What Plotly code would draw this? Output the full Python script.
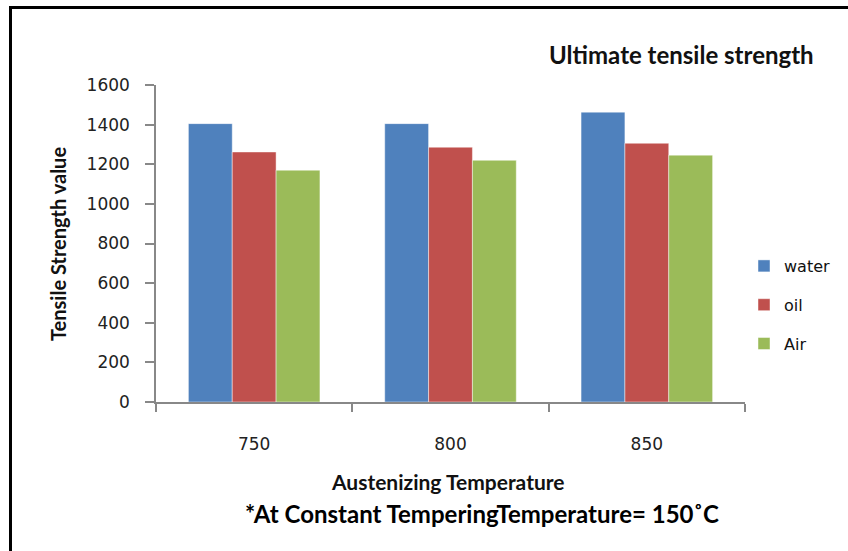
import plotly.graph_objects as go

categories = ["750", "800", "850"]
water = [1405, 1405, 1463]
oil = [1262, 1286, 1306]
air = [1170, 1220, 1246]
y_ticks = [0, 200, 400, 600, 800, 1000, 1200, 1400, 1600]

colors = {"water": "#4F81BD", "oil": "#C0504D", "Air": "#9BBB59"}

fig = go.Figure()
for i, (name, vals) in enumerate([("water", water), ("oil", oil), ("Air", air)]):
    fig.add_trace(go.Bar(
        x=categories, y=vals, name=name, legendgroup=name,
        marker=dict(color=colors[name], line=dict(color="rgba(255,255,255,0.45)", width=1)),
    ))

W, H = 848, 551
L, R, T, B = 156, 103, 85, 149
pw, ph = W - L - R, H - T - B

def px_x(p):
    return (p - L) / pw

def px_y(p):
    return (H - B - p) / ph

fig.update_layout(
    width=W, height=H,
    margin=dict(l=L, r=R, t=T, b=B, pad=0),
    paper_bgcolor="white", plot_bgcolor="white",
    barmode="group", bargap=0.33, bargroupgap=0,
    font=dict(family="DejaVu Sans", color="#222"),
    showlegend=True,
    legend=dict(x=px_x(744), y=px_y(249), xanchor="left", yanchor="top",
                font=dict(family="DejaVu Sans", size=16, color="#111"),
                tracegroupgap=15, bgcolor="rgba(0,0,0,0)"),
    xaxis=dict(
        type="category", showline=True, linecolor="#888", linewidth=1.5,
        ticks="outside", tickson="boundaries", ticklen=8, tickcolor="#888", tickwidth=1.5,
        tickfont=dict(family="DejaVu Sans", size=17, color="#222"),
        ticklabelstandoff=26, showgrid=False, zeroline=False,
    ),
    yaxis=dict(
        range=[0, 1600], tickvals=y_ticks, showline=True, linecolor="#888", linewidth=1.5,
        ticks="outside", ticklen=9, tickcolor="#888", tickwidth=1.5,
        tickfont=dict(family="DejaVu Sans", size=17, color="#222"),
        ticklabelstandoff=12, showgrid=False, zeroline=False,
    ),
    annotations=[
        dict(text="<b>Ultimate tensile strength</b>", xref="paper", yref="paper",
             x=px_x(681), y=px_y(55), xanchor="center", yanchor="middle", showarrow=False,
             font=dict(family="Lato", size=24, color="#111")),
        dict(text="<b>Tensile Strength value</b>", xref="paper", yref="paper",
             x=px_x(58), y=px_y(244), xanchor="center", yanchor="middle", showarrow=False,
             textangle=-90, font=dict(family="Lato", size=20, color="#111")),
        dict(text="<b>Austenizing Temperature</b>", xref="paper", yref="paper",
             x=px_x(448), y=px_y(481), xanchor="center", yanchor="middle", showarrow=False,
             font=dict(family="Lato", size=21, color="#111")),
        dict(text="<b>*At Constant TemperingTemperature= 150˚C</b>", xref="paper", yref="paper",
             x=px_x(482), y=px_y(513), xanchor="center", yanchor="middle", showarrow=False,
             font=dict(family="Lato", size=24, color="#000")),
    ],
    shapes=[
        dict(type="line", xref="paper", yref="paper", x0=px_x(10.5), x1=px_x(10.5),
             y0=px_y(6), y1=px_y(600), line=dict(color="black", width=3)),
        dict(type="line", xref="paper", yref="paper", x0=px_x(9), x1=px_x(900),
             y0=px_y(7.5), y1=px_y(7.5), line=dict(color="black", width=3)),
    ],
)

fig.write_html("out.html")
